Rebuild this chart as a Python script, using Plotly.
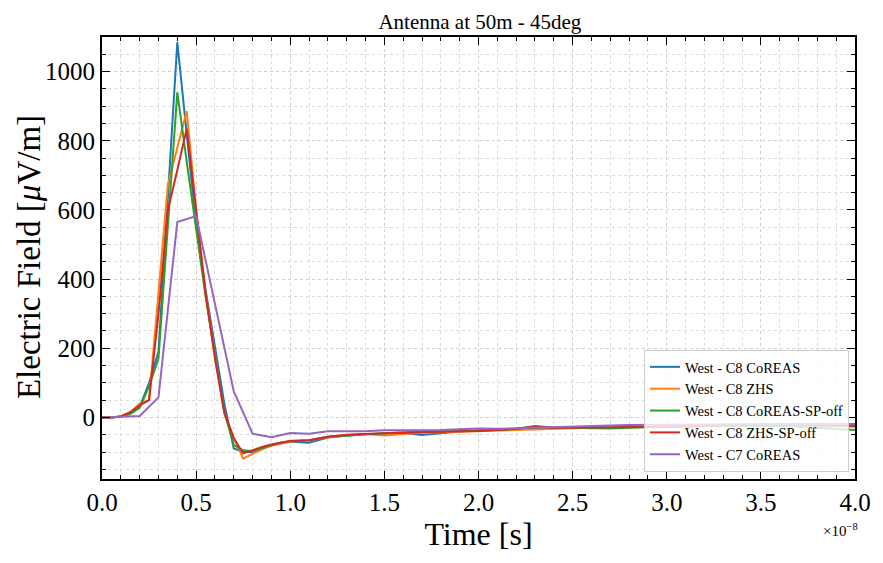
import plotly.graph_objects as go

# Time in units of 1e-8 s
t_c8 = [0.0, 0.05, 0.1, 0.15, 0.2, 0.25, 0.3, 0.35, 0.4, 0.45, 0.5, 0.55, 0.6, 0.65, 0.7, 0.75,
        0.8, 0.85, 0.9, 0.95, 1.0, 1.1, 1.2, 1.3, 1.4, 1.5, 1.6, 1.7, 1.8, 1.9, 2.0, 2.1, 2.2,
        2.3, 2.4, 2.5, 2.6, 2.7, 2.8, 2.9, 3.0, 3.1, 3.2, 3.3, 3.4, 3.5, 3.6, 3.7, 3.8, 3.9, 4.0]
t_c7 = [0.0, 0.1, 0.2, 0.3, 0.4, 0.5, 0.6, 0.7, 0.8, 0.9, 1.0, 1.1, 1.2, 1.3, 1.4, 1.5, 1.6,
        1.7, 1.8, 1.9, 2.0, 2.1, 2.2, 2.3, 2.4, 2.5, 2.6, 2.7, 2.8, 2.9, 3.0, 3.1, 3.2, 3.3,
        3.4, 3.5, 3.6, 3.7, 3.8, 3.9, 4.0]

c8_coreas = [0, 0, 3, 12, 30, 100, 190, 640, 1085, 820, 555, 370, 200, 40, -90, -100,
             -100, -88, -80, -73, -70, -73, -58, -52, -48, -47, -45, -51, -45, -41, -38, -36, -33,
             -30, -31, -29, -30, -30, -28, -27, -26, -25, -24, -24, -23, -23, -22, -22, -23, -25, -26]
c8_zhs = [0, 0, 3, 15, 40, 50, 360, 674, 780, 886, 600, 360, 180, 10, -60, -119,
          -105, -92, -82, -75, -70, -66, -57, -51, -48, -52, -47, -44, -43, -41, -40, -38, -36,
          -34, -33, -31, -30, -29, -28, -27, -27, -26, -25, -24, -23, -23, -22, -22, -22, -23, -24]
c8_coreas_spoff = [0, 0, 3, 10, 28, 90, 170, 560, 940, 740, 540, 350, 180, 15, -80, -95,
                   -98, -88, -80, -73, -68, -66, -56, -52, -48, -46, -43, -42, -40, -39, -38, -36, -33,
                   -25, -29, -30, -31, -32, -30, -28, -27, -26, -25, -25, -24, -24, -25, -27, -30, -33, -36]
c8_zhs_spoff = [0, 0, 3, 15, 35, 50, 300, 600, 715, 835, 600, 360, 170, 15, -60, -104,
                -95, -85, -78, -72, -68, -66, -56, -50, -47, -46, -44, -42, -41, -40, -39, -37, -33,
                -27, -30, -30, -29, -28, -27, -26, -25, -24, -24, -23, -23, -22, -22, -22, -22, -23, -24]
c7_coreas = [0, 2, 4, 58, 565, 582, 330, 75, -47, -57, -45, -47, -40, -40, -40, -37, -37,
             -35, -36, -34, -32, -33, -31, -30, -29, -27, -25, -23, -22, -22, -21, -21, -20, -20,
             -20, -19, -19, -19, -19, -19, -19]

names = ["West - C8 CoREAS", "West - C8 ZHS", "West - C8 CoREAS-SP-off",
         "West - C8 ZHS-SP-off", "West - C7 CoREAS"]
colors = ["#1f77b4", "#ff7f0e", "#2ca02c", "#d62728", "#9467bd"]
xs = [t_c8, t_c8, t_c8, t_c8, t_c7]
ys = [c8_coreas, c8_zhs, c8_coreas_spoff, c8_zhs_spoff, c7_coreas]

SERIF = "Liberation Serif, DejaVu Serif, serif"

fig = go.Figure()
for n, c, x, y in zip(names, colors, xs, ys):
    fig.add_trace(go.Scatter(x=x, y=y, mode="lines", name=n,
                             line=dict(color=c, width=2)))

axis_common = dict(
    showline=True, linecolor="black", linewidth=2, mirror="allticks",
    ticks="inside", ticklen=8, tickwidth=1.3, tickcolor="black",
    showgrid=True, gridcolor="#cfcfcf", gridwidth=0.8, griddash="dot",
    zeroline=False,
    tickfont=dict(family=SERIF, size=25, color="black"),
)

fig.update_layout(
    width=883, height=563,
    margin=dict(l=102, r=25, t=37, b=84),
    paper_bgcolor="white", plot_bgcolor="white",
    title=dict(text="Antenna at 50m - 45deg", x=0.5435, xanchor="center", y=0.962,
               yanchor="middle", font=dict(family=SERIF, size=21, color="black")),
    xaxis=dict(range=[0, 4.0], dtick=0.5, tick0=0, tickformat=".1f",
               title=dict(text="Time [s]", font=dict(family=SERIF, size=32, color="black"),
                          standoff=8),
               minor=dict(dtick=0.1, ticks="inside", ticklen=4, tickcolor="black",
                          showgrid=True, gridcolor="#dcdcdc", gridwidth=0.7, griddash="dot"),
               **axis_common),
    yaxis=dict(range=[-178, 1100], dtick=200, tick0=0,
               minor=dict(dtick=50, ticks="inside", ticklen=4, tickcolor="black",
                          showgrid=True, gridcolor="#dcdcdc", gridwidth=0.7, griddash="dot"),
               **axis_common),
    legend=dict(x=0.992, y=0.016, xanchor="right", yanchor="bottom",
                bgcolor="rgba(255,255,255,0.8)", bordercolor="#cccccc", borderwidth=1,
                font=dict(family=SERIF, size=14.5, color="black")),
    showlegend=True,
)

# y-axis title placed as rotated annotation
fig.add_annotation(text="Electric Field [<i>μ</i>V/m]", xref="paper", yref="paper",
                   x=-0.097, y=0.502, xanchor="center", yanchor="middle", textangle=-90,
                   showarrow=False, font=dict(family=SERIF, size=33, color="black"))

fig.add_annotation(text="×10<sup>−8</sup>", xref="paper", yref="paper",
                   x=1.006, y=-0.115, xanchor="right", yanchor="middle", showarrow=False,
                   font=dict(family=SERIF, size=15, color="black"))

fig.write_html("out.html")
